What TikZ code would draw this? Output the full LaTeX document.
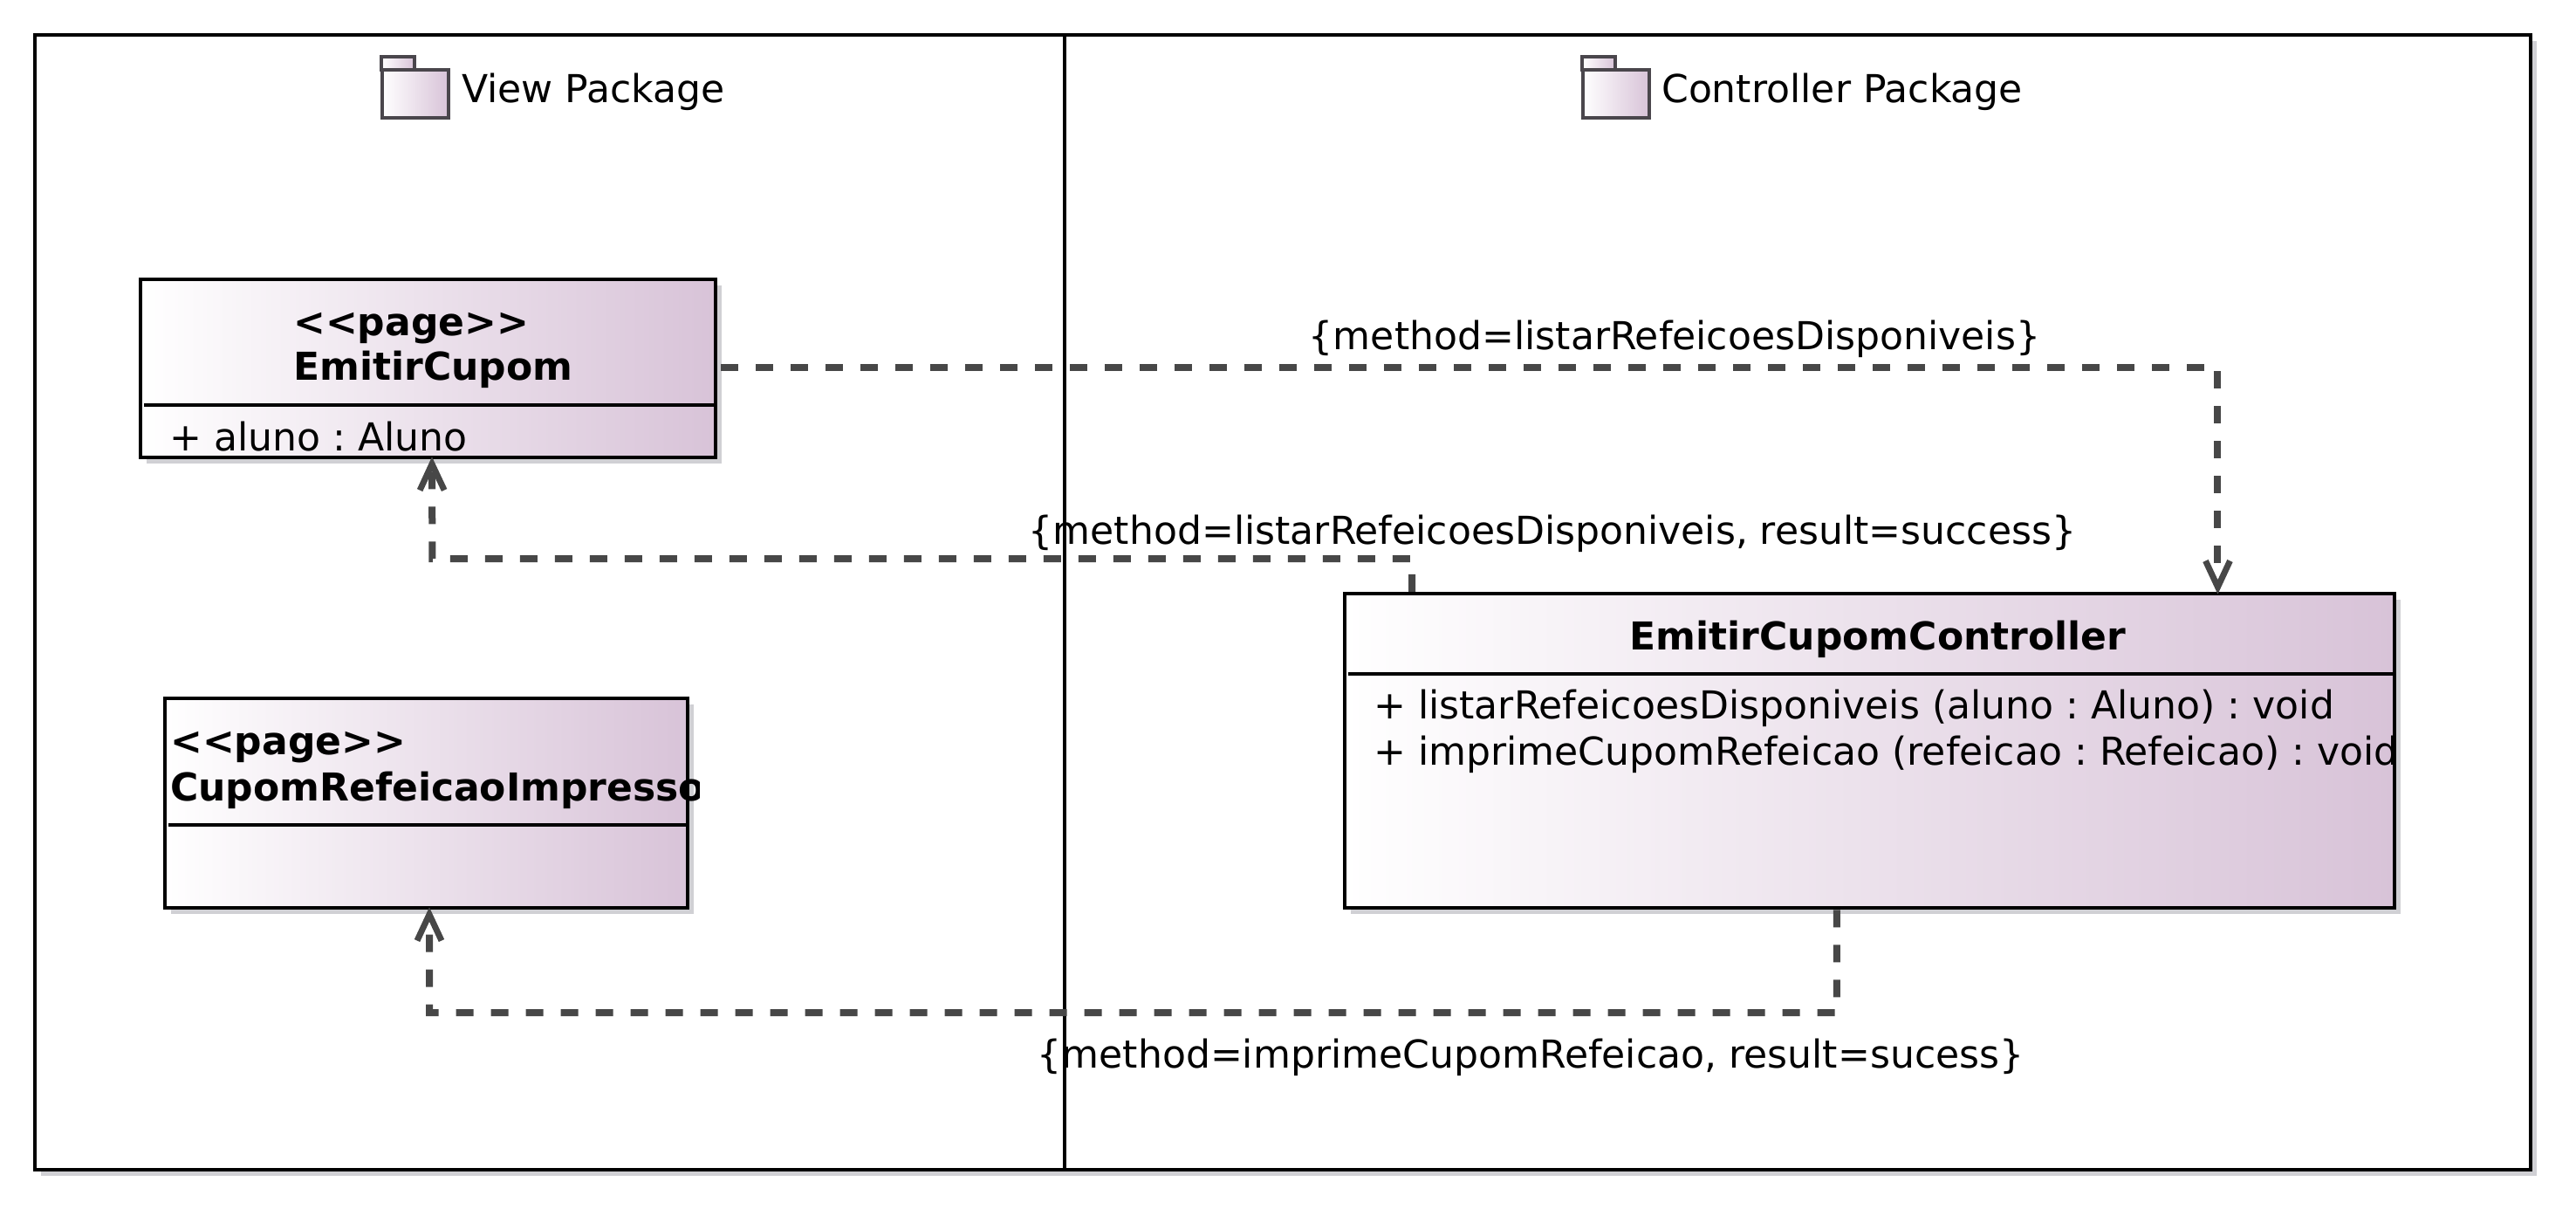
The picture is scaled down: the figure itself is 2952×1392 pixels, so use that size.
\documentclass[tikz,border=0pt]{standalone}
\usepackage{fontspec}
\setmainfont{DejaVu Sans}
\frenchspacing
\usetikzlibrary{arrows.meta,calc,shadows}
\definecolor{umlend}{HTML}{D8C3D8}
\definecolor{umlshadow}{HTML}{D0D0D4}
\definecolor{dep}{HTML}{474747}
\definecolor{icon}{HTML}{4A464C}
\newcommand{\guil}[1]{{<}{<}#1{>}{>}}
\tikzset{
  pane/.style={draw=black,line width=4.5pt,fill=white,rectangle,inner sep=0pt,
    drop shadow={shadow xshift=7pt,shadow yshift=-7pt,fill=umlshadow,opacity=1}},
  classbox/.style={draw=black,line width=4.5pt,rectangle,inner sep=0pt,left color=white,right color=umlend,
    drop shadow={shadow xshift=7pt,shadow yshift=-7pt,fill=umlshadow,opacity=1}},
  pkgpart/.style={draw=icon,line width=4pt,rectangle,inner sep=0pt,left color=white,middle color=umlend,right color=umlend},
  txt/.style={anchor=base west,inner sep=0pt,font=\fontsize{44.1}{52}\selectfont,text=black},
  btxt/.style={anchor=base west,inner sep=0pt,font=\fontsize{44}{52}\selectfont\bfseries,text=black},
  lbl/.style={anchor=base,inner sep=0pt,font=\fontsize{44.1}{52}\selectfont,text=black},
  deparrow/.style={draw=dep,line width=8pt,dash pattern=on 20pt off 20pt,shorten >=-3pt,
    -{Straight Barb[length=30pt,width=28pt,line width=7pt]}}
}
\begin{document}
\begin{tikzpicture}[x=1pt,y=-1pt]
\useasboundingbox (0,0) rectangle (2952,1392);
% packages
\node[pane,minimum width=1180pt,minimum height=1300pt] (viewpane) at (630,690) {};
\node[pane,minimum width=1680pt,minimum height=1300pt] (ctrlpane) at (2060,690) {};
% package icons
\node[pkgpart,minimum width=38pt,minimum height=15pt] (viewtab) at (456,72.5) {};
\node[pkgpart,minimum width=76pt,minimum height=55pt] (viewicon) at (476,107.5) {};
\node[txt] (viewtitle) at (529,117) {View Package};
\node[pkgpart,minimum width=38pt,minimum height=15pt] (ctrltab) at (1832,72.5) {};
\node[pkgpart,minimum width=76pt,minimum height=55pt] (ctrlicon) at (1852,107.5) {};
\node[txt] (ctrltitle) at (1904,117) {Controller Package};
% classes
\node[classbox,minimum width=659pt,minimum height=204pt] (emitir) at (490.5,422) {};
\node[classbox,minimum width=599pt,minimum height=240pt] (impresso) at (488.5,920) {};
\node[classbox,minimum width=1203pt,minimum height=360pt] (ctrl) at (2142.5,860) {};
% compartment rules
\draw[line width=4pt] (165,464) -- (emitir.east |- 0,464);
\draw[line width=4pt] (193,945) -- (impresso.east |- 0,945);
\draw[line width=4pt] (1545,772) -- (ctrl.east |- 0,772);
% class texts
\node[btxt] (emitirstereo) at (336,384) {\guil{page}};
\node[btxt] (emitirname) at (336,435) {EmitirCupom};
\node[txt] (emitirattr) at (194,516) {+ aluno : Aluno};
\node[btxt] (impstereo) at (195,864) {\guil{page}};
\begin{scope}
  \clip (189,880) rectangle (801,940);
  \node[btxt] (impname) at (195,917) {CupomRefeicaoImpresso};
\end{scope}
\node[btxt,anchor=base] (ctrlname) at (2152,744) {EmitirCupomController};
\node[txt] (ctrlop1) at (1574,823) {+ listarRefeicoesDisponiveis (aluno : Aluno) : void};
\begin{scope}
  \clip (1545,830) rectangle (2742,900);
  \node[txt] (ctrlop2) at (1574,876) {+ imprimeCupomRefeicao (refeicao : Refeicao) : void};
\end{scope}
% connectors
\coordinate (elbowB) at (495.4,640);
\coordinate (elbowC) at (492,1160);
\draw[deparrow,shorten <=4pt] ($(emitir.east)+(0,-1.5)$) -| ($(ctrl.north west)!0.8304!(ctrl.north east)$);
\draw[deparrow] ($(ctrl.north west)!0.0657!(ctrl.north east)$) |- (elbowB) -- ($(emitir.south west)!0.5068!(emitir.south east)$);
\draw[deparrow] ($(ctrl.south west)!0.4688!(ctrl.south east)$) |- (elbowC) -- ($(impresso.south west)!0.5058!(impresso.south east)$);
% connector labels
\node[lbl] (lbla) at (1919,400) {\{method=listarRefeicoesDisponiveis\}};
\node[lbl] (lblb) at (1779,623) {\{method=listarRefeicoesDisponiveis, result=success\}};
\node[lbl] (lblc) at (1754,1223) {\{method=imprimeCupomRefeicao, result=sucess\}};
\end{tikzpicture}
\end{document}
